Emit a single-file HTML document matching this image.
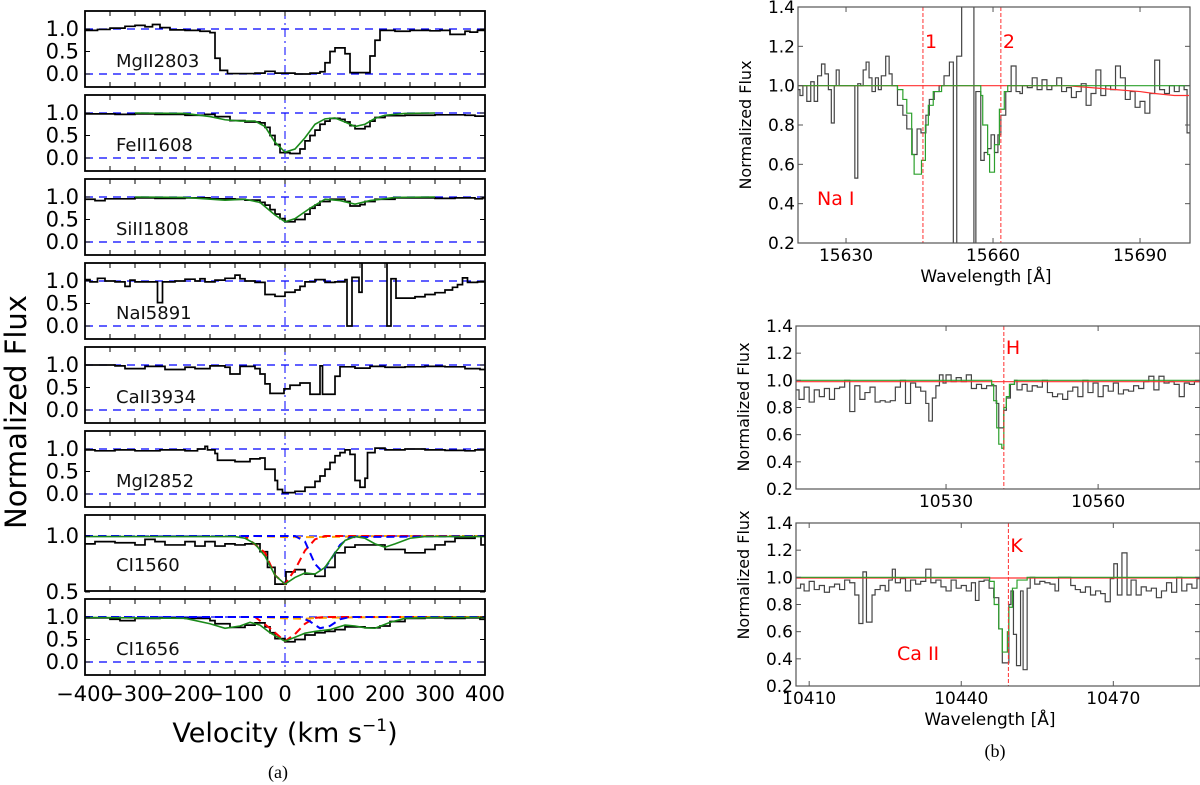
<!DOCTYPE html>
<html><head><meta charset="utf-8"><style>
html,body{margin:0;padding:0;background:#fff;width:1200px;height:785px;overflow:hidden}
svg{display:block}
text{font-family:"DejaVu Sans","Liberation Sans",sans-serif}
text.serif{font-family:"Liberation Serif",serif}
</style></head><body>
<svg id="fig" width="1200" height="785" viewBox="0 0 1200 785" xmlns="http://www.w3.org/2000/svg">
<defs></defs>
</svg>
<script>
// ---------- Panel (a) data: [velocity bin start (km/s), normalized flux] ----------
const panelNames = ["MgII2803","FeII1608","SiII1808","NaI5891","CaII3934","MgI2852","CI1560","CI1656"];
const velTicks = [-400,-300,-200,-100,0,100,200,300,400];
const velTickLabels = ["\u2212400","\u2212300","\u2212200","\u2212100","0","100","200","300","400"];
const mg2803 = [[-400,0.97],[-375,0.99],[-350,1.02],[-320,1.06],[-300,1.08],[-280,1.05],[-265,1.10],[-250,1.03],[-230,0.98],[-200,0.97],[-170,0.95],[-150,0.92],[-140,0.35],[-130,0.08],[-115,0.01],[-60,0.02],[-40,0.06],[-20,0.02],[20,0.0],[50,0.02],[70,0.05],[80,0.25],[90,0.5],[100,0.58],[120,0.45],[130,0.03],[160,0.03],[170,0.4],[180,0.75],[190,0.97],[220,0.95],[250,0.97],[290,0.96],[310,0.97],[330,0.88],[360,0.95],[370,0.93],[385,0.97]];
const fe1608 = [[-400,0.98],[-340,0.97],[-300,0.98],[-260,0.97],[-200,0.95],[-160,0.97],[-140,0.92],[-110,0.83],[-80,0.8],[-50,0.78],[-40,0.68],[-30,0.5],[-20,0.3],[-10,0.12],[10,0.1],[30,0.2],[40,0.38],[50,0.5],[60,0.62],[70,0.75],[80,0.82],[90,0.88],[110,0.86],[120,0.8],[130,0.72],[140,0.65],[160,0.7],[170,0.82],[180,0.9],[200,0.94],[240,0.95],[300,0.96],[360,0.95],[380,0.93]];
const fe1608Fit = [[-300,1.0],[-200,0.99],[-150,0.92],[-120,0.85],[-90,0.82],[-60,0.82],[-40,0.7],[-20,0.35],[0,0.13],[20,0.2],[40,0.45],[60,0.75],[80,0.87],[100,0.89],[120,0.8],[140,0.7],[160,0.75],[180,0.88],[200,0.95],[240,0.99],[300,1.0]];
const si1808 = [[-400,0.95],[-380,0.92],[-360,0.96],[-300,0.98],[-260,0.97],[-200,0.98],[-150,0.96],[-100,0.95],[-80,0.93],[-50,0.88],[-40,0.82],[-30,0.72],[-20,0.62],[-10,0.52],[0,0.45],[20,0.5],[40,0.62],[50,0.75],[60,0.82],[70,0.9],[90,0.95],[120,0.9],[130,0.8],[150,0.83],[160,0.9],[180,0.95],[220,0.98],[300,0.97],[340,0.98],[380,0.96],[395,0.98]];
const si1808Fit = [[-300,1.0],[-200,0.99],[-120,0.93],[-80,0.95],[-50,0.88],[-20,0.6],[0,0.45],[20,0.52],[50,0.75],[80,0.95],[110,0.92],[140,0.84],[170,0.92],[220,0.99],[300,1.0]];
const na5891 = [[-400,1.03],[-390,0.98],[-375,1.06],[-360,1.0],[-340,0.98],[-320,0.88],[-310,1.02],[-300,0.98],[-260,0.98],[-255,0.52],[-245,0.98],[-220,1.0],[-200,1.04],[-180,1.0],[-170,1.05],[-160,0.98],[-140,1.02],[-120,1.06],[-100,1.13],[-90,1.05],[-80,1.0],[-60,0.97],[-40,0.7],[-20,0.66],[0,0.75],[20,0.8],[30,0.88],[40,0.98],[60,1.03],[80,0.97],[100,0.98],[120,1.03],[124,0.0],[134,1.08],[148,0.75],[154,1.6],[204,0.0],[212,1.05],[222,0.62],[260,0.65],[280,0.7],[300,0.74],[320,0.8],[335,0.86],[345,0.92],[355,1.07],[365,0.97],[385,0.98]];
const ca3934 = [[-400,1.0],[-340,0.98],[-320,0.92],[-280,0.97],[-240,0.9],[-200,0.95],[-180,0.92],[-150,0.98],[-120,0.95],[-110,0.8],[-90,0.97],[-60,0.92],[-50,0.8],[-40,0.58],[-30,0.37],[-2,0.47],[10,0.55],[30,0.6],[50,0.35],[70,0.98],[75,0.35],[100,0.75],[110,0.96],[140,0.93],[170,0.97],[200,0.95],[240,0.96],[280,0.97],[320,0.96],[360,0.92],[390,0.9]];
const mg2852 = [[-400,0.98],[-380,0.96],[-340,0.98],[-300,0.96],[-250,0.98],[-200,0.96],[-175,1.0],[-160,1.06],[-155,0.98],[-140,0.9],[-135,0.75],[-100,0.72],[-70,0.78],[-50,0.8],[-40,0.55],[-20,0.3],[-15,0.1],[-5,0.03],[20,0.06],[40,0.15],[60,0.28],[70,0.4],[80,0.55],[90,0.7],[100,0.85],[110,0.92],[120,0.98],[130,0.88],[140,0.3],[150,0.15],[160,0.35],[165,0.92],[180,1.02],[200,0.98],[240,1.0],[280,0.98],[320,0.97],[360,0.96],[380,0.98]];
const ci1560 = [[-400,0.93],[-380,0.95],[-340,0.94],[-300,0.92],[-280,0.97],[-260,0.95],[-240,0.92],[-200,0.95],[-180,0.91],[-160,0.95],[-140,0.91],[-120,0.93],[-100,0.92],[-80,0.93],[-50,0.86],[-35,0.72],[-20,0.57],[2,0.68],[20,0.7],[40,0.66],[60,0.64],[80,0.72],[100,0.85],[120,0.9],[140,0.92],[180,0.92],[200,0.88],[240,0.85],[280,0.88],[300,0.92],[320,0.95],[340,0.98],[380,1.0],[392,0.92]];
const ci1560Fit = [[-400,0.995],[-100,0.995],[-80,0.98],[-60,0.93],[-40,0.82],[-20,0.65],[0,0.57],[20,0.63],[40,0.67],[60,0.66],[80,0.72],[100,0.85],[120,0.96],[140,0.995],[160,0.98],[180,0.93],[200,0.9],[220,0.93],[250,0.98],[280,0.995],[400,0.995]];
const ci1560Red = [[-400,1.0],[-80,1.0],[-40,0.85],[-20,0.65],[0,0.57],[20,0.7],[40,0.87],[60,0.97],[80,1.0],[400,1.0]];
const ci1560Blue = [[-400,1.0],[20,1.0],[40,0.95],[60,0.75],[75,0.68],[90,0.78],[110,0.92],[130,0.99],[400,1.0]];
const ci1560Orange = [[-400,1.0],[-60,1.0],[0,0.99],[60,0.99],[200,1.0],[400,1.0]];
const ci1656 = [[-400,0.98],[-350,0.95],[-330,0.92],[-300,0.97],[-250,0.98],[-200,0.97],[-150,0.92],[-140,0.85],[-110,0.77],[-80,0.82],[-60,0.87],[-40,0.78],[-30,0.65],[-20,0.52],[0,0.45],[20,0.5],[40,0.6],[60,0.65],[80,0.68],[100,0.72],[120,0.78],[140,0.78],[160,0.76],[190,0.8],[210,0.9],[240,0.97],[280,0.98],[320,0.97],[360,0.98],[390,0.95]];
const ci1656Fit = [[-400,0.99],[-200,0.97],[-150,0.85],[-120,0.75],[-90,0.8],[-70,0.88],[-50,0.82],[-30,0.65],[0,0.46],[20,0.55],[40,0.64],[60,0.68],[90,0.72],[120,0.82],[140,0.8],[160,0.76],[180,0.75],[210,0.88],[240,0.97],[300,0.99],[400,0.99]];
const ci1656Red = [[-400,1.0],[-60,1.0],[-30,0.75],[0,0.46],[20,0.62],[40,0.85],[60,0.98],[80,1.0],[400,1.0]];
const ci1656Blue = [[-400,1.0],[30,1.0],[50,0.9],[70,0.75],[90,0.8],[110,0.95],[130,1.0],[400,1.0]];
const ci1656Orange = [[-400,1.0],[-50,1.0],[0,0.97],[40,0.96],[60,0.98],[200,1.0],[400,1.0]];

// ---------- Panel (b) data: [wavelength bin start (A), normalized flux] ----------
const naiSpec = [[15620,0.98],[15620.6,0.95],[15621.2,1.0],[15622,0.92],[15622.8,1.02],[15623.5,0.92],[15624.2,1.05],[15625,1.11],[15625.7,1.06],[15626.4,0.98],[15627,0.81],[15627.6,1.0],[15628,1.08],[15628.6,1.0],[15631.8,0.53],[15632.4,1.01],[15633,1.0],[15633.5,1.08],[15634.1,1.12],[15634.7,1.04],[15635.3,0.97],[15636,1.04],[15636.6,0.98],[15637.2,1.05],[15638.1,1.15],[15638.8,1.06],[15639.4,1.0],[15640.5,0.9],[15641.6,0.85],[15642.4,0.78],[15643.5,0.65],[15644.5,0.78],[15645.3,0.76],[15646.3,0.85],[15647,0.93],[15648,0.97],[15649,1.0],[15650,1.05],[15651.1,1.12],[15651.9,0.0],[15652.6,1.15],[15653.6,1.7],[15656.1,0.0],[15656.5,0.97],[15657.5,0.62],[15658.2,0.66],[15658.9,0.68],[15659.6,0.75],[15660.3,0.66],[15661,0.75],[15661.6,0.85],[15662.6,0.97],[15663.7,1.1],[15664.7,0.97],[15665.5,0.96],[15666,1.0],[15667,0.99],[15668,1.04],[15669,0.98],[15670,1.03],[15671,0.98],[15672,1.0],[15673,1.04],[15674,0.97],[15675,0.99],[15676,0.94],[15677,0.97],[15678,1.01],[15679,0.9],[15680,0.96],[15681,1.08],[15682,0.95],[15683,1.0],[15684,0.98],[15685,1.1],[15686,1.04],[15687,0.93],[15688,0.97],[15689,0.89],[15690,0.92],[15691,0.86],[15692,0.96],[15693,1.13],[15694,0.98],[15695,0.96],[15696,1.0],[15697,0.97],[15698,1.0],[15699,0.98],[15699.6,0.76]];
const naiFit = [[15620,1.0],[15640.5,0.98],[15641.6,0.93],[15642.4,0.86],[15643.4,0.65],[15643.9,0.55],[15645.4,0.62],[15646.2,0.8],[15646.8,0.9],[15647.8,0.97],[15649.5,1.0],[15657.5,0.95],[15657.9,0.8],[15658.9,0.65],[15659.3,0.56],[15660.3,0.7],[15661.3,0.88],[15662.3,0.97],[15663,1.0],[15700,1.0]];
const naiTell = [[15620,1.0],[15675,1.0],[15680,0.99],[15685,0.98],[15690,0.97],[15693,0.96],[15697,0.95],[15700,0.95]];
const naiLines = [15645.7,15661.6];
const naiLineLabels = ["1","2"];
const naiXTicks = [15630,15660,15690];
const hSpec = [[10500.4,0.93],[10501,0.86],[10502,0.95],[10503,0.84],[10504,0.93],[10505,0.88],[10506,0.94],[10507,0.86],[10508,0.94],[10509,0.95],[10510,1.0],[10511,0.77],[10512,0.96],[10513,0.86],[10514,0.91],[10515,0.95],[10516,0.84],[10517,0.85],[10518,0.84],[10519,0.85],[10520,0.95],[10521,1.0],[10522,0.83],[10523,0.98],[10524,0.95],[10525,0.92],[10526,0.83],[10526.6,0.7],[10527.3,0.87],[10528,0.96],[10528.7,1.04],[10529.4,0.98],[10530,1.04],[10531,0.99],[10532,1.02],[10533,0.99],[10534,1.04],[10535,0.94],[10536,0.97],[10537,0.94],[10538,0.96],[10539.9,0.83],[10540.4,0.65],[10541.4,0.78],[10541.9,0.87],[10542.7,0.97],[10543.5,1.0],[10544,0.93],[10545,0.97],[10546,0.92],[10547,0.96],[10548,0.95],[10549,1.0],[10550,0.91],[10551,0.88],[10552,0.9],[10553,0.86],[10554,0.92],[10555,0.95],[10556,0.88],[10557,1.0],[10558,0.91],[10559,0.98],[10560,0.88],[10561,0.96],[10562,0.92],[10563,0.98],[10564,0.9],[10565,0.93],[10566,0.92],[10567,0.96],[10568,0.94],[10569,0.99],[10570,1.03],[10571,0.93],[10572,1.03],[10573,0.98],[10574,0.99],[10575,0.97],[10576,0.88],[10577,0.98],[10578,0.97],[10579,0.99]];
const hFit = [[10500.4,1.0],[10538,1.0],[10539,0.97],[10539.4,0.85],[10540,0.65],[10540.4,0.53],[10541,0.5],[10541.4,0.8],[10541.9,0.88],[10542.5,0.97],[10543.5,1.0],[10580.1,1.0]];
const hTell = [[10500.4,0.99],[10580.1,0.99]];
const hLine = [10541.4];
const hXTicks = [10530,10560];
const kSpec = [[10407.4,0.92],[10408.3,0.95],[10409,0.9],[10410,0.97],[10411,0.91],[10412,0.94],[10413,0.89],[10414,0.93],[10415,0.95],[10416,0.91],[10417,0.98],[10418,0.96],[10419,0.87],[10419.8,0.66],[10420.6,1.04],[10421.3,0.67],[10422.4,0.87],[10423,0.91],[10424,0.94],[10425,0.9],[10425.7,0.98],[10426.4,1.06],[10427,0.96],[10428,0.99],[10429,0.9],[10430,0.98],[10431,0.95],[10432,0.97],[10433,1.06],[10434,0.96],[10435,0.98],[10436,0.93],[10437,0.9],[10438,0.98],[10439,0.92],[10440,0.94],[10441,0.9],[10442,0.96],[10442.8,0.83],[10443.5,0.97],[10444.5,0.98],[10445.5,0.92],[10446.4,0.85],[10447.4,0.62],[10448.1,0.37],[10449.4,0.8],[10449.8,0.9],[10450.3,0.58],[10450.9,0.35],[10451.7,0.9],[10452.2,0.32],[10453,0.92],[10453.6,1.0],[10454.5,0.95],[10455.5,0.97],[10456.5,0.96],[10457.5,0.95],[10458.5,0.9],[10459.2,1.0],[10461.6,0.94],[10462.5,0.91],[10463.5,0.89],[10464.5,0.93],[10465.5,0.87],[10466.5,0.9],[10467.5,0.88],[10468.4,0.82],[10469.4,0.99],[10470.1,1.1],[10470.8,0.87],[10471.7,1.18],[10472.7,0.87],[10473.5,0.98],[10474.5,0.87],[10475.5,0.93],[10476.5,0.9],[10477.5,0.92],[10478.5,0.85],[10479.5,0.9],[10480.5,0.96],[10481.5,0.89],[10482.5,1.0],[10483.5,0.9],[10484.5,0.95],[10485.5,0.92],[10486.5,0.99]];
const kFit = [[10407.4,1.0],[10444.4,1.0],[10445.6,0.97],[10446.5,0.8],[10447.4,0.62],[10448.1,0.45],[10449.1,0.6],[10449.4,0.78],[10450.1,0.92],[10451,0.98],[10453,1.0],[10487.1,1.0]];
const kTell = [[10407.4,0.995],[10487.1,0.995]];
const kLine = [10449.3];
const kXTicks = [10410,10440,10470];
const fluxTicksB = [0.2,0.4,0.6,0.8,1.0,1.2,1.4];

const NS = "http://www.w3.org/2000/svg";
const svg = document.getElementById("fig");
const defs = svg.querySelector("defs");
function mk(tag, attrs, parent){
  const e = document.createElementNS(NS, tag);
  for (const k in attrs) e.setAttribute(k, attrs[k]);
  (parent||svg).appendChild(e);
  return e;
}
function stepPath(data, X, Y, xEnd){
  let d = "";
  for (let i=0;i<data.length;i++){
    const x0 = X(data[i][0]);
    const x1 = i+1<data.length ? X(data[i+1][0]) : X(xEnd);
    const y = Y(data[i][1]);
    d += (i===0 ? "M"+x0+","+y : "L"+x0+","+y) + "L"+x1+","+y;
  }
  return d;
}
function linePath(data, X, Y){
  return data.map((p,i)=>(i?"L":"M")+X(p[0])+","+Y(p[1])).join("");
}
let clipId = 0;
function clip(x,y,w,h){
  const id = "c"+(clipId++);
  const c = mk("clipPath",{id:id},defs);
  mk("rect",{x:x,y:y,width:w,height:h},c);
  return "url(#"+id+")";
}

// ---------------- Panel (a) ----------------
const AX0 = 85, AX1 = 485, VMIN = -400, VMAX = 400;
const Xv = v => AX0 + (v - VMIN) * (AX1 - AX0) / (VMAX - VMIN);
const spectraA = [mg2803, fe1608, si1808, na5891, ca3934, mg2852, ci1560, ci1656];
const fitsA = [null, fe1608Fit, si1808Fit, null, null, null, ci1560Fit, ci1656Fit];
const compsA = {6:[ci1560Orange, ci1560Red, ci1560Blue], 7:[ci1656Orange, ci1656Red, ci1656Blue]};
const compColors = ["#ffa500","#ff0000","#0000ff"];
const compNames = ["component-orange","component-red","component-blue"];

const gA = mk("g",{}); 



for (let i=0;i<8;i++){
  const top = 11 + 84*i, h = 76;
  const special = (i===6);
  const y1 = top + (special?21:18), k = special?112:45;
  const Y = f => y1 + (1-f)*k;
  const g = mk("g",{},gA);
  
  
  const cp = clip(AX0, top, AX1-AX0, h);
  const inner = mk("g",{"clip-path":cp},g);
  [0,1].forEach(f=>{
    const l = mk("line",{x1:AX0,x2:AX1,y1:Y(f),y2:Y(f),stroke:"#0000ff","stroke-width":1.3,"stroke-dasharray":"8,6"},inner);
    
    
  });
  const vl = mk("line",{x1:Xv(0),x2:Xv(0),y1:top,y2:top+h,stroke:"#0000ff","stroke-width":1,"stroke-dasharray":"8,4,2,4"},inner);
  
  
  const sp = mk("path",{d:stepPath(spectraA[i],Xv,Y,VMAX),fill:"none",stroke:"#000","stroke-width":1.7},inner);
  
  
  if (compsA[i]){
    compsA[i].forEach((c,j)=>{
      const p = mk("path",{d:linePath(c,Xv,Y),fill:"none",stroke:compColors[j],"stroke-width":2,"stroke-dasharray":"8,5"},inner);
      
      
    });
  }
  if (fitsA[i]){
    const p = mk("path",{d:linePath(fitsA[i],Xv,Y),fill:"none",stroke:"#1a8a1a","stroke-width":1.6},inner);
    
    
  }
  const fr = mk("rect",{x:AX0,y:top,width:AX1-AX0,height:h,fill:"none",stroke:"#000","stroke-width":1.8},g);
  
  
  for (let v=VMIN+50; v<VMAX; v+=50){
    mk("line",{x1:Xv(v),x2:Xv(v),y1:top,y2:top+5,stroke:"#000","stroke-width":1},g);
    mk("line",{x1:Xv(v),x2:Xv(v),y1:top+h,y2:top+h-5,stroke:"#000","stroke-width":1},g);
  }
  const yt = special ? [0.5,1.0] : [0.0,0.5,1.0];
  yt.forEach(f=>{
    mk("line",{x1:AX0,x2:AX0+5,y1:Y(f),y2:Y(f),stroke:"#000","stroke-width":1},g);
    mk("line",{x1:AX1,x2:AX1-5,y1:Y(f),y2:Y(f),stroke:"#000","stroke-width":1},g);
    const t = mk("text",{x:79,y:Y(f)+7,"text-anchor":"end","font-size":21,fill:"#000"},g);
    t.textContent = f.toFixed(1);
    
    
  });
  const lab = mk("text",{x:116,y:top+56,"font-size":18,fill:"#111"},g);
  lab.textContent = panelNames[i];
  
  
}
velTicks.forEach((v,i)=>{
  const t = mk("text",{x:Xv(v),y:701,"text-anchor":"middle","font-size":21,fill:"#000"},gA);
  t.textContent = velTickLabels[i];
  
  
});
{
  const t = mk("text",{x:285,y:742,"text-anchor":"middle","font-size":27,fill:"#000"},gA);
  t.innerHTML = 'Velocity (km s<tspan dy="-11" font-size="17">\u22121</tspan><tspan dy="11">)</tspan>';
  
  
  const yl = mk("text",{x:0,y:0,transform:"translate(26,412) rotate(-90)","text-anchor":"middle","font-size":29,fill:"#000"},gA);
  yl.textContent = "Normalized Flux";
  
  
  const ca = mk("text",{x:278,y:778,"text-anchor":"middle","font-size":18,fill:"#000","class":"serif",style:"font-family:'Liberation Serif',serif"},gA);
  ca.textContent = "(a)";
  
  
}

// ---------------- Panel (b) ----------------
function bPanel(o){
  const g = mk("g",{});
  
  
  const X = w => o.x0 + (w - o.w0)*(o.x1-o.x0)/(o.w1-o.w0);
  const Y = f => o.y1 - (f-0.2)*(o.y1-o.y0)/1.2;
  const cp = clip(o.x0, o.y0, o.x1-o.x0, o.y1-o.y0);
  const inner = mk("g",{"clip-path":cp},g);
  const sp = mk("path",{d:stepPath(o.spec,X,Y,o.w1),fill:"none",stroke:"#444","stroke-width":1.2},inner);
  
  
  const tl = mk("path",{d:linePath(o.tell,X,Y),fill:"none",stroke:"#ff3030","stroke-width":1.2},inner);
  
  
  const ft = mk("path",{d:stepPath(o.fit,X,Y,o.w1),fill:"none",stroke:"#2ca02c","stroke-width":1.2},inner);
  
  
  o.lines.forEach((w,i)=>{
    const l = mk("line",{x1:X(w),x2:X(w),y1:o.y0,y2:o.y1,stroke:"#ff3030","stroke-width":1,"stroke-dasharray":"4,2"},inner);
    
    
    const t = mk("text",{x:X(w)+2,y:o.y0+o.labelDy,"font-size":19,fill:"#ff0000"},g);
    t.textContent = o.lineLabels[i];
    
    
  });
  const fr = mk("rect",{x:o.x0,y:o.y0,width:o.x1-o.x0,height:o.y1-o.y0,fill:"none",stroke:"#555","stroke-width":1.2},g);
  
  
  fluxTicksB.forEach(f=>{
    mk("line",{x1:o.x0,x2:o.x0+5,y1:Y(f),y2:Y(f),stroke:"#555"},g);
    mk("line",{x1:o.x1,x2:o.x1-5,y1:Y(f),y2:Y(f),stroke:"#555"},g);
    const t = mk("text",{x:o.x0-3,y:Y(f)+6,"text-anchor":"end","font-size":17,fill:"#000"},g);
    t.textContent = f.toFixed(1);
    
    
  });
  o.xt.forEach(w=>{
    mk("line",{x1:X(w),x2:X(w),y1:o.y1,y2:o.y1-5,stroke:"#555"},g);
    mk("line",{x1:X(w),x2:X(w),y1:o.y0,y2:o.y0+5,stroke:"#555"},g);
    const t = mk("text",{x:X(w),y:o.y1+18,"text-anchor":"middle","font-size":17,fill:"#000"},g);
    t.textContent = String(w);
    
    
  });
  const yl = mk("text",{x:0,y:0,transform:"translate("+(o.x0-47)+","+o.ylabY+") rotate(-90)","text-anchor":"middle","font-size":16,fill:"#000"},g);
  yl.textContent = "Normalized Flux";
  
  
  if (o.xlabel){
    const xl = mk("text",{x:(o.x0+o.x1)/2-8,y:o.y1+39,"text-anchor":"middle","font-size":17,fill:"#000"},g);
    xl.textContent = "Wavelength [\u00c5]";
    
    
  }
  if (o.ion){
    const t = mk("text",{x:o.ion[0],y:o.ion[1],"font-size":19,fill:"#ff0000"},g);
    t.textContent = o.ion[2];
    
    
  }
}
bPanel({name:"nai-panel",x0:798,x1:1190,y0:7,y1:243,w0:15620.2,w1:15700.2,spec:naiSpec,fit:naiFit,tell:naiTell,lines:naiLines,lineLabels:naiLineLabels,labelDy:41,xt:naiXTicks,xlabel:true,ylabY:125,ion:[817,205,"Na I"]});
bPanel({name:"ca-h-panel",x0:796,x1:1200,y0:326,y1:489,w0:10500.4,w1:10580.1,spec:hSpec,fit:hFit,tell:hTell,lines:hLine,lineLabels:["H"],labelDy:28,xt:hXTicks,xlabel:false,ylabY:407});
bPanel({name:"ca-k-panel",x0:796,x1:1200,y0:523,y1:686,w0:10407.4,w1:10487.1,spec:kSpec,fit:kFit,tell:kTell,lines:kLine,lineLabels:["K"],labelDy:29,xt:kXTicks,xlabel:true,ylabY:575,ion:[897,660,"Ca II"]});
{
  const t = mk("text",{x:995,y:757,"text-anchor":"middle","font-size":18,fill:"#000","class":"serif",style:"font-family:'Liberation Serif',serif"});
  t.textContent = "(b)";
  
  
}
</script>
</body></html>
